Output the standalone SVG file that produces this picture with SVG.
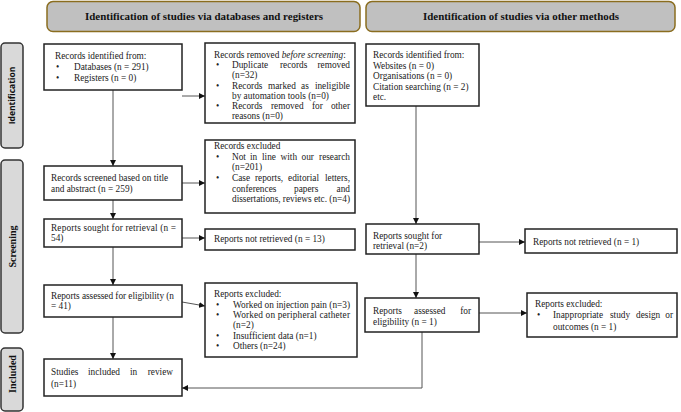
<svg xmlns="http://www.w3.org/2000/svg" width="681" height="412" viewBox="0 0 681 412">
<style>
.hdr{fill:#c0c0c0;stroke:#8a6d1f;stroke-width:1.5}
.hdrt{font-family:"Liberation Serif",serif;font-weight:bold;font-size:10.5px;fill:#111}
.side{fill:#d9d9d9;stroke:#333;stroke-width:1.5}
.sidet{font-family:"Liberation Serif",serif;font-weight:bold;font-size:10px;fill:#111}
.sides{font-family:"Open Sans","DejaVu Sans",sans-serif;font-weight:bold;font-size:8.5px;fill:#111}
.box{fill:#fff;stroke:#222;stroke-width:1.5}
.t{font-family:"Liberation Serif",serif;font-size:9.3px;fill:#222}
.e{text-anchor:end}
.con{fill:none;stroke:#555;stroke-width:1}
</style>
<defs>
<marker id="ah" viewBox="0 0 10 10" refX="10" refY="5" markerWidth="6" markerHeight="6" markerUnits="userSpaceOnUse" orient="auto">
<path d="M0,0 L10,5 L0,10 z" fill="#111"/>
</marker>
</defs>

<g id="header-databases">
<rect class="hdr" x="47" y="1.5" width="313" height="30" rx="6"/>
<text class="hdrt" x="204" y="20" text-anchor="middle" textLength="238" lengthAdjust="spacingAndGlyphs">Identification of studies via databases and registers</text>
</g>
<g id="header-other">
<rect class="hdr" x="366" y="1.5" width="309" height="30" rx="6"/>
<text class="hdrt" x="521" y="20" text-anchor="middle" textLength="196" lengthAdjust="spacingAndGlyphs">Identification of studies via other methods</text>
</g>

<g id="side-identification">
<rect class="side" x="1" y="43" width="22" height="105" rx="4"/>
<text class="sides" transform="translate(15,95.5) rotate(-90)" text-anchor="middle">Identification</text>
</g>
<g id="side-screening">
<rect class="side" x="1" y="160" width="22" height="173" rx="4"/>
<text class="sidet" transform="translate(15.5,246.5) rotate(-90)" text-anchor="middle">Screening</text>
</g>
<g id="side-included">
<rect class="side" x="1" y="348" width="22" height="63" rx="4"/>
<text class="sidet" transform="translate(15.5,374) rotate(-90)" text-anchor="middle">Included</text>
</g>

<g id="connectors">
<line class="con" x1="113" y1="90" x2="113" y2="166" marker-end="url(#ah)"/>
<line class="con" x1="182" y1="96" x2="205" y2="96" marker-end="url(#ah)"/>
<line class="con" x1="182" y1="183" x2="205" y2="183" marker-end="url(#ah)"/>
<line class="con" x1="113" y1="200" x2="113" y2="219" marker-end="url(#ah)"/>
<line class="con" x1="182" y1="238" x2="205" y2="238" marker-end="url(#ah)"/>
<line class="con" x1="113" y1="247" x2="113" y2="285" marker-end="url(#ah)"/>
<line class="con" x1="182" y1="302" x2="205" y2="306" marker-end="url(#ah)"/>
<line class="con" x1="113" y1="317" x2="113" y2="359" marker-end="url(#ah)"/>
<line class="con" x1="416" y1="106" x2="416" y2="224" marker-end="url(#ah)"/>
<line class="con" x1="479" y1="242" x2="525" y2="242" marker-end="url(#ah)"/>
<line class="con" x1="416" y1="254" x2="416" y2="298" marker-end="url(#ah)"/>
<line class="con" x1="479" y1="313" x2="527" y2="313" marker-end="url(#ah)"/>
<polyline class="con" points="422,332 422,388 182,388" marker-end="url(#ah)"/>
</g>

<g id="records-identified">
<rect class="box" x="44" y="44" width="138" height="46"/>
<text class="t" x="55" y="59">Records identified from:</text>
<text class="t" x="56" y="70">•</text><text class="t" x="74" y="70">Databases (n = 291)</text>
<text class="t" x="56" y="81">•</text><text class="t" x="74" y="81">Registers (n = 0)</text>
</g>

<g id="records-removed">
<rect class="box" x="205" y="43" width="150" height="80"/>
<text class="t" x="214" y="58">Records removed <tspan font-style="italic">before screening</tspan>:</text>
<text class="t" x="216" y="68">•</text>
<text class="t" y="68"><tspan x="232">Duplicate</tspan><tspan x="280">records</tspan><tspan x="350" class="e">removed</tspan></text>
<text class="t" x="232" y="78">(n=32)</text>
<text class="t" x="216" y="89">•</text>
<text class="t" y="89"><tspan x="232">Records</tspan><tspan x="268">marked</tspan><tspan x="301">as</tspan><tspan x="350" class="e">ineligible</tspan></text>
<text class="t" x="232" y="99">by automation tools (n=0)</text>
<text class="t" x="216" y="109">•</text>
<text class="t" y="109"><tspan x="232">Records</tspan><tspan x="271">removed</tspan><tspan x="312">for</tspan><tspan x="350" class="e">other</tspan></text>
<text class="t" x="232" y="119">reasons (n=0)</text>
</g>

<g id="records-excluded">
<rect class="box" x="205" y="140" width="150" height="73"/>
<text class="t" x="214" y="149">Records excluded</text>
<text class="t" x="216" y="160">•</text>
<text class="t" y="160"><tspan x="232">Not</tspan><tspan x="250">in</tspan><tspan x="262">line</tspan><tspan x="280.5">with</tspan><tspan x="301.5">our</tspan><tspan x="350" class="e">research</tspan></text>
<text class="t" x="232" y="170">(n=201)</text>
<text class="t" x="216" y="181">•</text>
<text class="t" y="181"><tspan x="232">Case</tspan><tspan x="255">reports,</tspan><tspan x="288">editorial</tspan><tspan x="350" class="e">letters,</tspan></text>
<text class="t" y="192"><tspan x="232">conferences</tspan><tspan x="294">papers</tspan><tspan x="350" class="e">and</tspan></text>
<text class="t" x="232" y="202" textLength="118">dissertations, reviews etc. (n=4)</text>
</g>

<g id="records-screened">
<rect class="box" x="44" y="166" width="138" height="34"/>
<text class="t" x="51" y="181">Records screened based on title</text>
<text class="t" x="51" y="192">and abstract (n = 259)</text>
</g>

<g id="reports-sought">
<rect class="box" x="44" y="219" width="138" height="28"/>
<text class="t" x="51" y="231" textLength="125">Reports sought for retrieval (n =</text>
<text class="t" x="51" y="241">54)</text>
</g>

<g id="reports-not-retrieved">
<rect class="box" x="205" y="229" width="150" height="21"/>
<text class="t" x="214" y="242">Reports not retrieved (n = 13)</text>
</g>

<g id="reports-assessed">
<rect class="box" x="44" y="285" width="138" height="32"/>
<text class="t" x="51" y="299" textLength="123">Reports assessed for eligibility (n</text>
<text class="t" x="51" y="309">= 41)</text>
</g>

<g id="reports-excluded">
<rect class="box" x="205" y="283" width="152" height="74"/>
<text class="t" x="214" y="297">Reports excluded:</text>
<text class="t" x="216" y="307.5">•</text><text class="t" x="233" y="307.5">Worked on injection pain (n=3)</text>
<text class="t" x="216" y="318">•</text><text class="t" x="233" y="318" textLength="117">Worked on peripheral catheter</text>
<text class="t" x="233" y="328">(n=2)</text>
<text class="t" x="216" y="339">•</text><text class="t" x="233" y="339">Insufficient data (n=1)</text>
<text class="t" x="216" y="349">•</text><text class="t" x="233" y="349">Others (n=24)</text>
</g>

<g id="studies-included">
<rect class="box" x="44" y="359" width="138" height="37"/>
<text class="t" y="375"><tspan x="51">Studies</tspan><tspan x="88">included</tspan><tspan x="130">in</tspan><tspan x="173" class="e">review</tspan></text>
<text class="t" x="51" y="387">(n=11)</text>
</g>

<g id="other-identified">
<rect class="box" x="366" y="44" width="113" height="62"/>
<text class="t" x="373" y="58">Records identified from:</text>
<text class="t" x="373" y="68.5">Websites (n = 0)</text>
<text class="t" x="373" y="79">Organisations (n = 0)</text>
<text class="t" x="373" y="89.5">Citation searching (n = 2)</text>
<text class="t" x="373" y="100">etc.</text>
</g>

<g id="other-sought">
<rect class="box" x="366" y="224" width="113" height="30"/>
<text class="t" x="373" y="239">Reports sought for</text>
<text class="t" x="373" y="249">retrieval (n=2)</text>
</g>

<g id="other-not-retrieved">
<rect class="box" x="525" y="229" width="152" height="24"/>
<text class="t" x="533" y="245">Reports not retrieved (n = 1)</text>
</g>

<g id="other-assessed">
<rect class="box" x="365" y="298" width="114" height="34"/>
<text class="t" y="314"><tspan x="373">Reports</tspan><tspan x="414">assessed</tspan><tspan x="471" class="e">for</tspan></text>
<text class="t" x="373" y="325">eligibility (n = 1)</text>
</g>

<g id="other-excluded">
<rect class="box" x="527" y="293" width="150" height="44"/>
<text class="t" x="535" y="307">Reports excluded:</text>
<text class="t" x="537" y="318">•</text>
<text class="t" y="318"><tspan x="553">Inappropriate</tspan><tspan x="610">study</tspan><tspan x="636">design</tspan><tspan x="673" class="e">or</tspan></text>
<text class="t" x="553" y="330">outcomes (n = 1)</text>
</g>
</svg>
